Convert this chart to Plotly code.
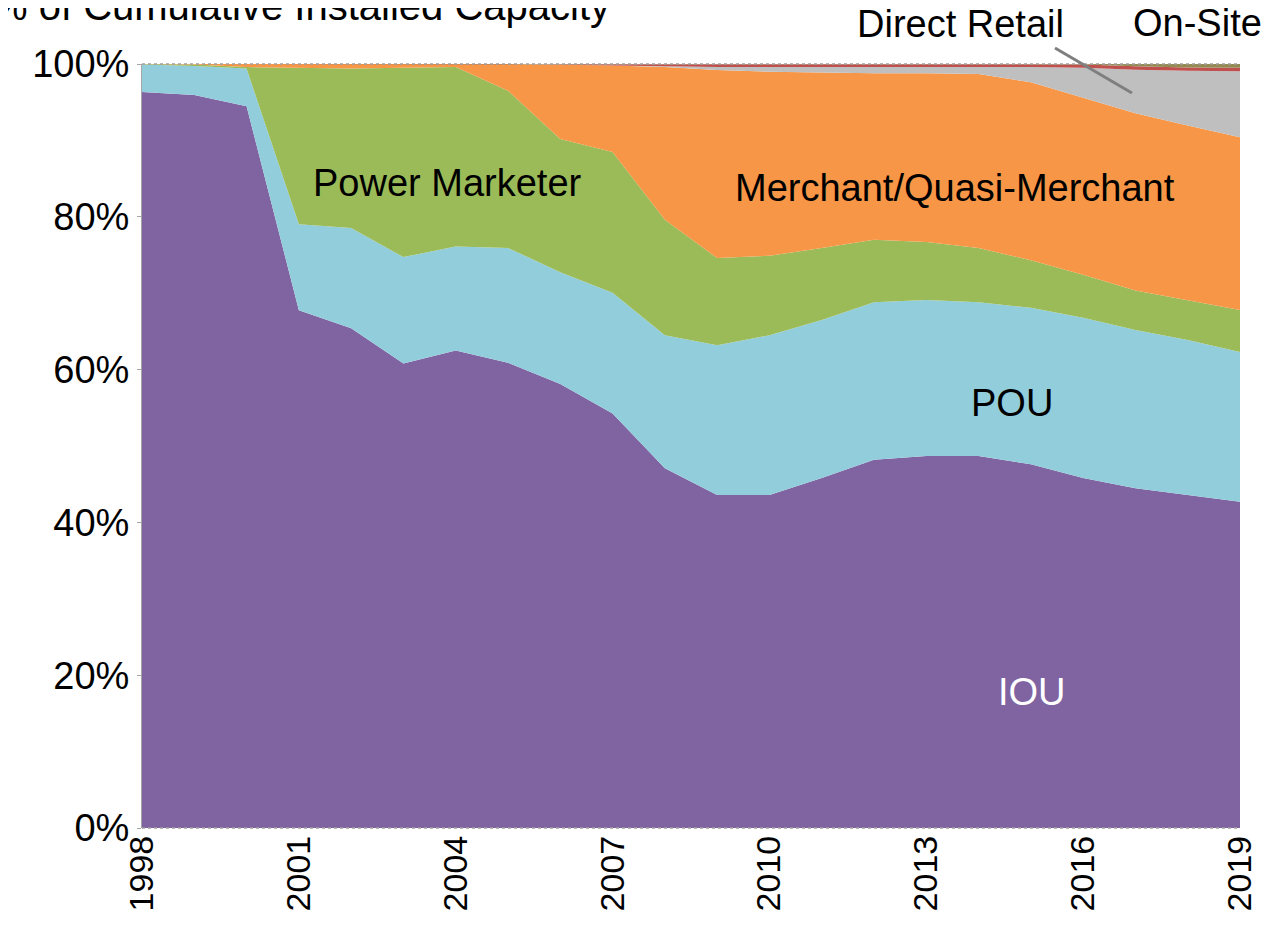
import plotly.graph_objects as go

years = list(range(1998, 2020))

iou = [96.3, 95.9, 94.2, 67.5, 65.2, 60.6, 62.3, 60.7, 58.0, 54.2, 47.1,
       43.6, 43.6, 45.8, 48.2, 48.7, 48.7, 47.6, 45.8, 44.5, 43.6, 42.7]
pou = [3.6, 3.8, 4.9, 11.2, 13.1, 13.9, 13.6, 15.0, 14.6, 15.8, 17.4,
       19.6, 20.9, 20.7, 20.6, 20.4, 20.1, 20.5, 21.0, 20.7, 20.3, 19.6]
power_marketer = [0.05, 0.2, 0.2, 20.4, 20.8, 24.7, 23.4, 20.5, 17.4, 18.4, 15.1,
                  11.4, 10.4, 9.4, 8.2, 7.6, 7.1, 6.2, 5.6, 5.2, 5.2, 5.5]
merchant = [0.0, 0.05, 0.4, 0.5, 0.6, 0.5, 0.4, 3.5, 9.7, 11.3, 20.0,
            24.6, 24.1, 23.0, 21.8, 22.1, 22.8, 23.3, 23.2, 23.2, 22.9, 22.6]
direct_retail = [0, 0, 0, 0, 0, 0, 0, 0, 0, 0, 0.1,
                 0.4, 0.6, 0.7, 0.8, 0.8, 0.9, 2.0, 3.9, 5.7, 7.15, 8.65]
on_site = [0, 0, 0, 0, 0, 0, 0, 0, 0.1, 0.2, 0.3,
           0.4, 0.4, 0.4, 0.4, 0.4, 0.4, 0.4, 0.45, 0.45, 0.45, 0.45]
other = [0, 0, 0, 0, 0, 0, 0, 0, 0, 0, 0,
         0, 0, 0, 0, 0, 0, 0, 0.05, 0.3, 0.45, 0.5]

x_ticks = list(range(1998, 2020, 3))
y_ticks = [0, 20, 40, 60, 80, 100]
y_tick_labels = ["0%", "20%", "40%", "60%", "80%", "100%"]

series = [
    ("IOU", iou, "#8064A2"),
    ("POU", pou, "#92CDDC"),
    ("Power Marketer", power_marketer, "#9BBB59"),
    ("Merchant/Quasi-Merchant", merchant, "#F79646"),
    ("Direct Retail", direct_retail, "#BFBFBF"),
    ("On-Site", on_site, "#C0504D"),
    ("Other", other, "#948A54"),
]

fig = go.Figure()
for name, vals, col in series:
    fig.add_trace(go.Scatter(
        x=years, y=vals, name=name, mode="lines",
        stackgroup="one", groupnorm="percent",
        line=dict(width=0, color=col), fillcolor=col,
        hoverinfo="x+y+name",
    ))

FONT = "Liberation Sans, Arial, sans-serif"
lab = 38

fig.update_layout(
    width=1270, height=930,
    margin=dict(l=134, r=38, t=56, b=110),
    paper_bgcolor="white", plot_bgcolor="white",
    showlegend=False,
    font=dict(family=FONT, size=lab, color="black"),
    xaxis=dict(range=[1998, 2019], tickmode="array", tickvals=x_ticks,
               ticktext=[str(v) for v in x_ticks],
               tickangle=-90, showgrid=False, zeroline=False, showline=False,
               ticks="", tickfont=dict(size=34)),
    yaxis=dict(range=[0, 100], tickmode="array", tickvals=y_ticks,
               ticktext=y_tick_labels,
               showgrid=False, zeroline=False, showline=True, linecolor="#A6A6A6",
               linewidth=1, ticks="outside", ticklen=4, tickcolor="#A6A6A6",
               tickfont=dict(size=38)),
)

# dotted frame lines at 0% and 100%
for yy in (0, 1):
    fig.add_shape(type="line", xref="paper", yref="paper", x0=0, x1=1, y0=yy, y1=yy,
                  line=dict(color="#A0A0A0", width=1.5, dash="dot"), layer="above")

# leader line to Direct Retail
fig.add_shape(type="line", xref="paper", yref="paper",
              x0=0.8315, y0=1.021, x1=0.9016, y1=0.962,
              line=dict(color="#7F7F7F", width=3), layer="above")

def ann(text, x, y, color="black", xanchor="center", yanchor="middle", size=lab):
    fig.add_annotation(text=text, xref="paper", yref="paper", x=x, y=y,
                       showarrow=False, xanchor=xanchor, yanchor=yanchor,
                       font=dict(family=FONT, size=size, color=color))

ann("% of Cumulative Installed Capacity", -0.1384, 1.045, xanchor="left",
    yanchor="bottom", size=40)
ann("Direct Retail", 0.745, 1.052)
ann("On-Site", 0.9617, 1.054)
ann("Power Marketer", 0.2778, 0.8442)
ann("Merchant/Quasi-Merchant", 0.7404, 0.8377)
ann("POU", 0.7923, 0.5563)
ann("IOU", 0.8106, 0.178, color="white")

fig.write_html("out.html")
